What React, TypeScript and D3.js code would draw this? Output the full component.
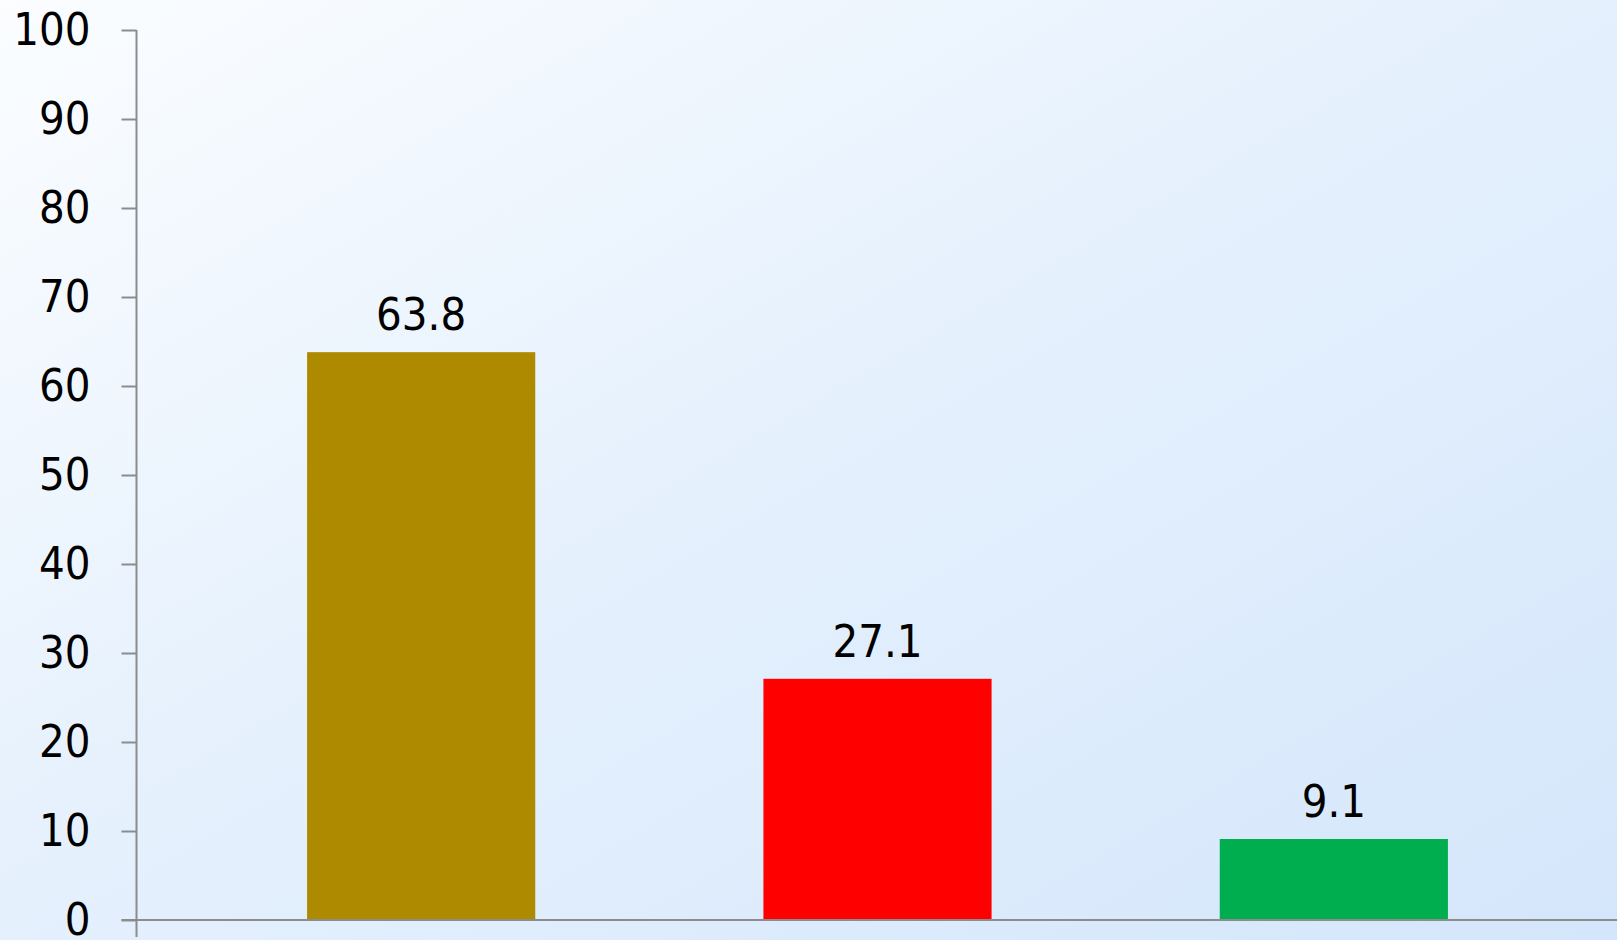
import React, { useEffect, useRef } from "react"
import * as d3 from "d3"

const categories = ["A", "B", "C"]
const values = [63.8, 27.1, 9.1]
const barColors = ["#ad8a00", "#ff0000", "#00ad4f"]
const yTicks = [0, 10, 20, 30, 40, 50, 60, 70, 80, 90, 100]

const App = () => {
  const chart = useRef<HTMLDivElement>(null)

  const drawChart = () => {
    const svgWidth = 1617
    const svgHeight = 940
    const font = "'DejaVu Sans Condensed', 'DejaVu Sans', sans-serif"

    d3.select(chart.current).selectAll("*").remove()

    const svg = d3
      .select(chart.current)
      .append("svg")
      .attr("width", svgWidth)
      .attr("height", svgHeight)
      .style("display", "block")

    const defs = svg.append("defs")
    const bg = defs
      .append("linearGradient")
      .attr("id", "bg-gradient")
      .attr("x1", "0%")
      .attr("y1", "0%")
      .attr("x2", "100%")
      .attr("y2", "100%")
    bg.append("stop").attr("offset", "0%").attr("stop-color", "#fbfdff")
    bg.append("stop").attr("offset", "45%").attr("stop-color", "#e6f1fd")
    bg.append("stop").attr("offset", "100%").attr("stop-color", "#d4e6fb")

    svg
      .append("rect")
      .attr("width", svgWidth)
      .attr("height", svgHeight)
      .attr("fill", "url(#bg-gradient)")

    const axisX = 136.5
    const y = d3.scaleLinear().domain([0, 100]).range([920, 30])
    const x = d3
      .scaleBand()
      .domain(categories)
      .range([193, 1562])
      .paddingInner(0.5)
      .paddingOuter(0.25)

    // bars
    svg
      .selectAll("rect.bar")
      .data(values)
      .enter()
      .append("rect")
      .attr("class", "bar")
      .attr("x", (d, i) => x(categories[i]) as number)
      .attr("y", (d) => y(d))
      .attr("width", x.bandwidth())
      .attr("height", (d) => y(0) - y(d))
      .attr("fill", (d, i) => barColors[i])

    // value labels
    svg
      .selectAll("text.val")
      .data(values)
      .enter()
      .append("text")
      .attr("class", "val")
      .attr("x", (d, i) => (x(categories[i]) as number) + x.bandwidth() / 2)
      .attr("y", (d) => y(d) - 22)
      .attr("text-anchor", "middle")
      .style("font-family", font)
      .style("font-size", "45px")
      .attr("fill", "#000")
      .text((d) => d.toFixed(1))

    // y axis
    const yAxis = d3
      .axisLeft(y)
      .tickValues(yTicks)
      .tickSize(15)
      .tickPadding(31)
      .tickSizeOuter(0)
    const gy = svg.append("g").attr("transform", `translate(${axisX},0)`).call(yAxis)
    gy.select(".domain").remove()
    gy.selectAll("line").attr("stroke", "#8c8c8c").attr("stroke-width", 2)
    gy.selectAll("text")
      .style("font-family", font)
      .style("font-size", "45px")
      .attr("fill", "#000")

    svg
      .append("line")
      .attr("x1", axisX)
      .attr("x2", axisX)
      .attr("y1", y(100))
      .attr("y2", 937)
      .attr("stroke", "#8c8c8c")
      .attr("stroke-width", 2)

    // x axis baseline
    svg
      .append("line")
      .attr("x1", axisX - 15)
      .attr("x2", svgWidth)
      .attr("y1", y(0))
      .attr("y2", y(0))
      .attr("stroke", "#8c8c8c")
      .attr("stroke-width", 2)
  }

  useEffect(() => {
    document.body.style.margin = "0"
    drawChart()
  }, [])

  return <div ref={chart} />
}

export default App
